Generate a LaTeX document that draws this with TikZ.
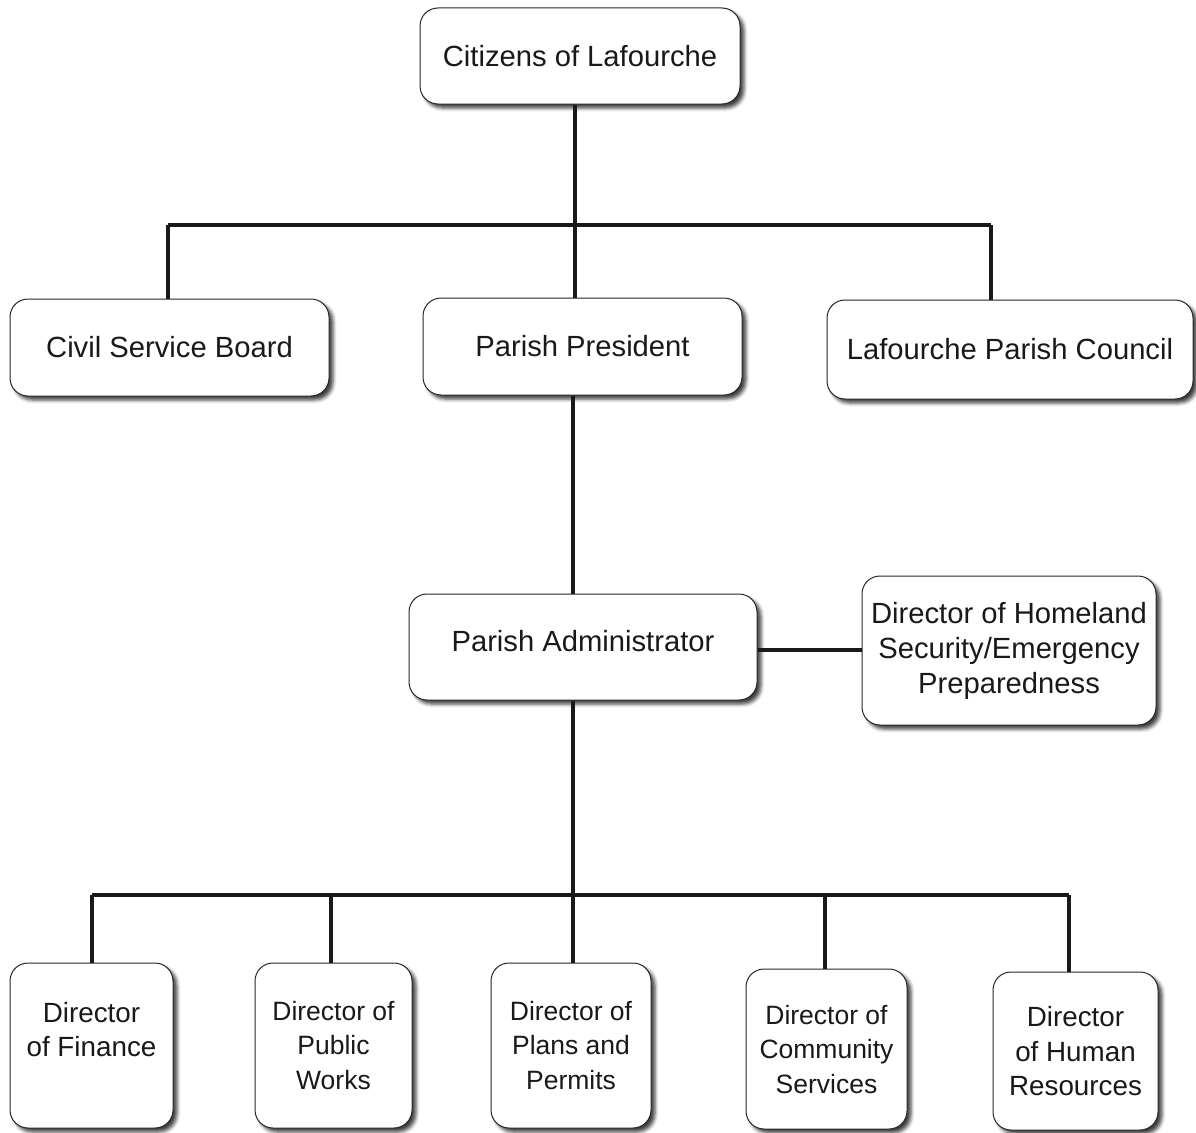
\documentclass[tikz,border=0pt]{standalone}
\usepackage{fontspec}
\setmainfont{Liberation Sans}
\usetikzlibrary{shadows.blur}
\begin{document}
\begin{tikzpicture}[x=1pt,y=1pt,
  box/.style={draw=black!85, line width=1pt, fill=white, rounded corners=18pt,
    align=center, inner sep=0pt, text=black!90,
    blur shadow={shadow xshift=4pt, shadow yshift=-4pt, shadow blur radius=3.5pt, shadow opacity=75},
    font=\fontsize{29.2}{35}\selectfont},
  small/.style={font=\fontsize{26.5}{34.5}\selectfont},
  mid/.style={font=\fontsize{27.8}{34.5}\selectfont},
  conn/.style={line width=3.2pt, draw=black!90}]
\useasboundingbox (0,0) rectangle (1196,-1132);
\clip (0,0) rectangle (1196,-1132);
% top levels
\node[box, minimum width=320pt, minimum height=96pt] (cit) at (580,-56) {Citizens of Lafourche};
\node[box, minimum width=319pt, minimum height=97pt] (csb) at (169.5,-347.5) {Civil Service Board};
\node[box, minimum width=319pt, minimum height=97pt] (pp) at (582.5,-346.5) {Parish President};
\node[box, minimum width=366pt, minimum height=99pt] (lpc) at (1010,-349.5) {Lafourche Parish Council};
\node[box, minimum width=348pt, minimum height=106pt, text depth=12pt] (pa) at (583,-647) {Parish Administrator};
\node[box, minimum width=294pt, minimum height=149pt] (hs) at (1009,-650.5) {Director of Homeland\\Security/Emergency\\Preparedness};
% bottom level
\node[box, mid, minimum width=163pt, minimum height=165pt, text depth=32pt] (fin) at (91.5,-1045.5) {Director\\of Finance};
\node[box, small, minimum width=157pt, minimum height=165pt] (pw) at (333.5,-1045.5) {Director of\\Public\\Works};
\node[box, small, minimum width=160pt, minimum height=165pt] (ppm) at (571,-1045.5) {Director of\\Plans and\\Permits};
\node[box, small, minimum width=161pt, minimum height=160pt, text depth=-1pt] (cs) at (826.5,-1049) {Director of\\Community\\Services};
\node[box, mid, minimum width=165pt, minimum height=158pt, text depth=-1pt] (hr) at (1075.5,-1051) {Director\\of Human\\Resources};
% junction coordinates
\coordinate (h1L) at (168,-225);
\coordinate (h1M) at (575,-225);
\coordinate (h1R) at (991,-225);
\coordinate (v2) at (573,-500);
\coordinate (hy) at (800,-650);
\coordinate (h3L) at (92,-895);
\coordinate (h3R) at (1069,-895);
\coordinate (b2) at (331,-895);
\coordinate (b4) at (825,-895);
% connectors
\draw[conn] (h1L) -- (h1R);
\draw[conn] (cit.south -| h1M) -- (pp.north -| h1M);
\draw[conn] (h1L) -- (csb.north -| h1L);
\draw[conn] (h1R) -- (lpc.north -| h1R);
\draw[conn] (pp.south -| v2) -- (pa.north -| v2);
\draw[conn] (pa.east |- hy) -- (hs.west |- hy);
\draw[conn] (pa.south -| v2) -- (h3L -| v2);
\draw[conn] (h3L) -- (h3R);
\draw[conn] (h3L) -- (fin.north -| h3L);
\draw[conn] (b2) -- (pw.north -| b2);
\draw[conn] (h3L -| v2) -- (ppm.north -| v2);
\draw[conn] (b4) -- (cs.north -| b4);
\draw[conn] (h3R) -- (hr.north -| h3R);
\end{tikzpicture}
\end{document}
